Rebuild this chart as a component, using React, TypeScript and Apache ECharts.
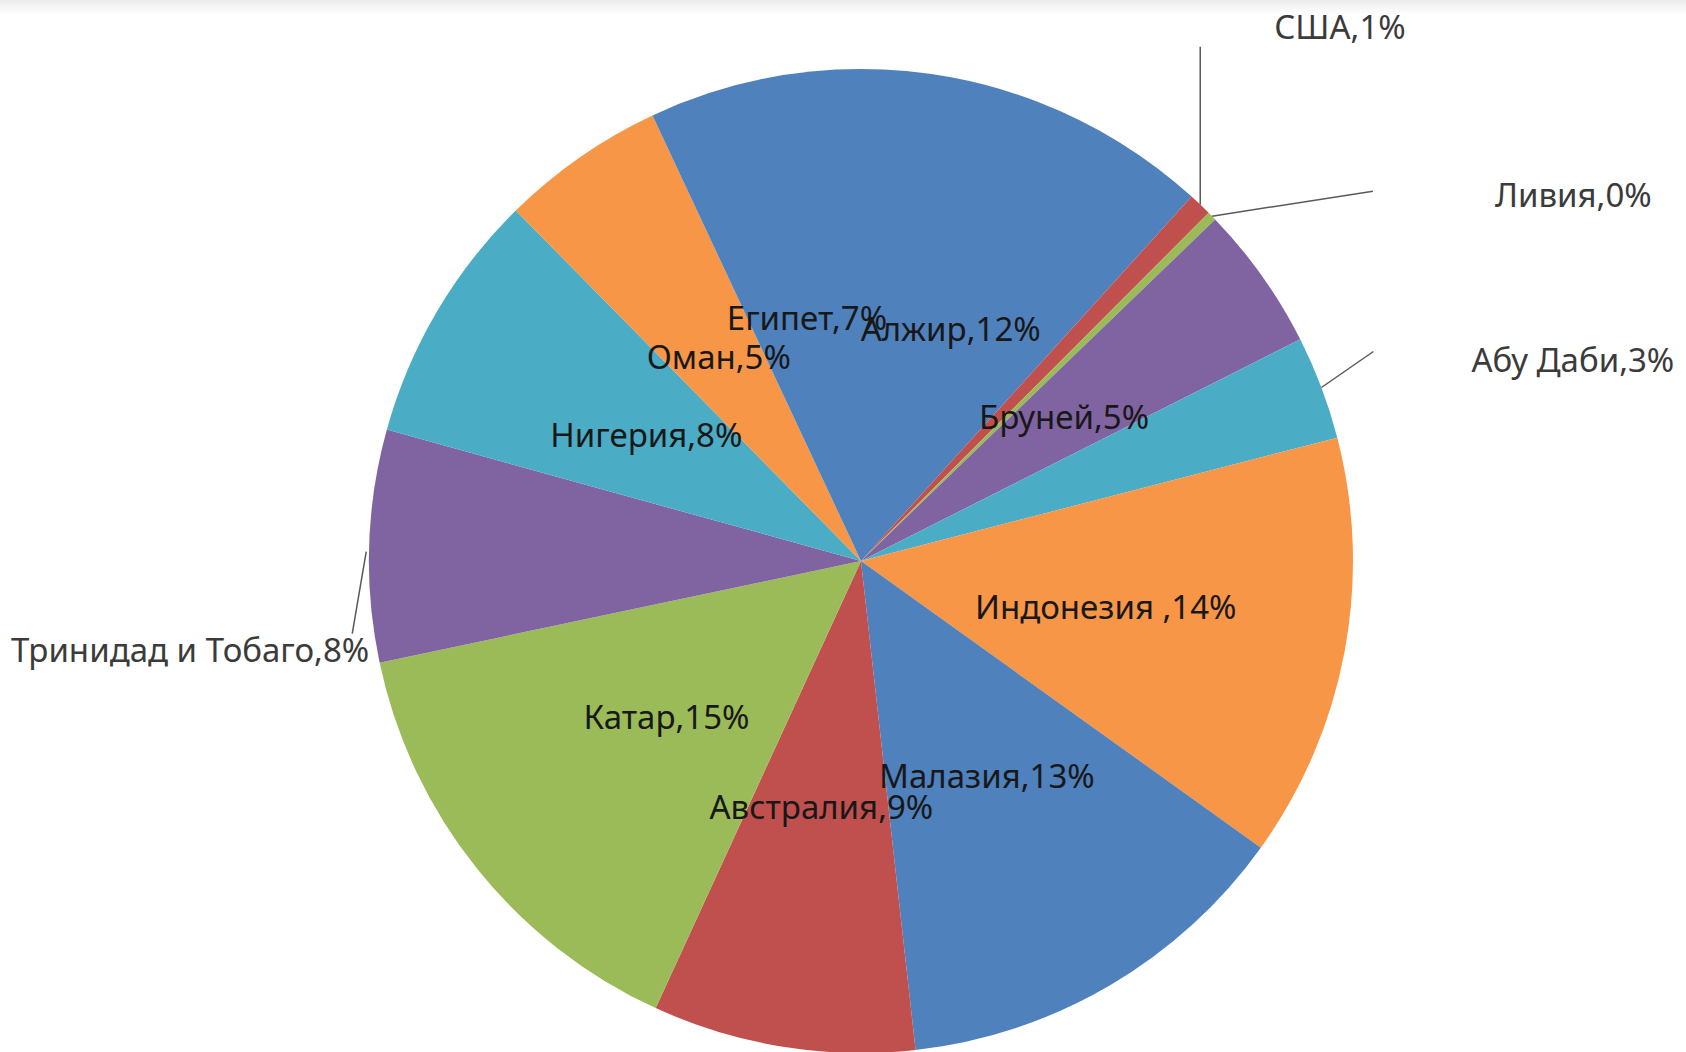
import React, { useEffect, useRef } from "react";
import * as echarts from "echarts";

// ---- data ----
const countries = [
  "Алжир",
  "США",
  "Ливия",
  "Бруней",
  "Абу Даби",
  "Индонезия ",
  "Малазия",
  "Австралия",
  "Катар",
  "Тринидад и Тобаго",
  "Нигерия",
  "Оман",
  "Египет",
];
const shares = [11.7, 0.76, 0.3, 4.76, 3.4, 13.9, 13.3, 8.6, 14.8, 7.6, 8.3, 5.4, 6.95];
const outsideLabelCountries = ["США", "Ливия", "Абу Даби", "Тринидад и Тобаго"];

// ---- style ----
const COLORS = ["#4F81BD", "#C0504D", "#9BBB59", "#8064A2", "#4BACC6", "#F79646"];
const CX = 861;
const CY = 561;
const R = 492;
const FONT = "Noto Sans";

// leader-line and label offsets relative to the slice's outer mid point
const LEADERS: Record<string, { line: number[][]; label: [number, number]; align: string }> = {
  "США": { line: [[0, 0], [0, -158]], label: [74, -178], align: "left" },
  "Ливия": { line: [[0, 0], [161, -25]], label: [283, -22], align: "left" },
  "Абу Даби": { line: [[0, 0], [52, -36]], label: [150, -28], align: "left" },
  "Тринидад и Тобаго": { line: [[-3, 6], [-17, 88]], label: [0, 104], align: "right" },
};

const total = shares.reduce((a, b) => a + b, 0);
function edgeAnchor(i: number): [number, number] {
  let cum = 0;
  for (let j = 0; j < i; j++) cum += shares[j];
  const mid = ((cum + shares[i] / 2) / total) * 2 * Math.PI;
  return [CX + R * Math.sin(mid), CY - R * Math.cos(mid)];
}

export default function App() {
  const ref = useRef<HTMLDivElement>(null);
  useEffect(() => {
    if (!ref.current) return;
    const chart = echarts.init(ref.current, undefined, { renderer: "svg" });
    const data = countries.map((name, i) => {
      const outside = outsideLabelCountries.includes(name);
      return {
        name,
        value: shares[i],
        itemStyle: { color: COLORS[i % COLORS.length] },
        label: outside
          ? { position: "outside", color: "#3b3b3b" }
          : { position: "inside", color: "#181818" },
        labelLine: outside
          ? { show: true, length: 10, length2: 10, lineStyle: { color: "#595959", width: 1.5 } }
          : { show: false },
      };
    });
    chart.setOption({
      animation: false,
      backgroundColor: "#ffffff",
      graphic: [
        {
          type: "rect",
          silent: true,
          z: -10,
          shape: { x: 0, y: 0, width: 1686, height: 14 },
          style: {
            fill: new echarts.graphic.LinearGradient(0, 0, 0, 1, [
              { offset: 0, color: "#ebebeb" },
              { offset: 1, color: "#ffffff" },
            ]),
          },
        },
      ],
      series: [
        {
          type: "pie",
          center: [CX, CY],
          radius: [0, R],
          startAngle: 90,
          clockwise: true,
          avoidLabelOverlap: false,
          minShowLabelAngle: 0,
          itemStyle: { borderWidth: 0 },
          label: {
            show: true,
            fontFamily: FONT,
            fontSize: 33,
            overflow: "none",
            formatter: (p: any) => `${p.name},${Math.round(p.percent)}%`,
          },
          labelLayout: (params: any) => {
            const name = countries[params.dataIndex];
            const cfg = LEADERS[name];
            if (!cfg) return {};
            const [ax, ay] = edgeAnchor(params.dataIndex);
            return {
              x: ax + cfg.label[0],
              y: ay + cfg.label[1],
              align: cfg.align,
              verticalAlign: "middle",
              labelLinePoints: cfg.line.map(([dx, dy]) => [ax + dx, ay + dy]),
            };
          },
          emphasis: { disabled: true },
          data,
        },
      ],
    });
    return () => chart.dispose();
  }, []);
  return (
    <div
      ref={ref}
      style={{ position: "absolute", left: 0, top: 0, width: 1686, height: 1052 }}
    />
  );
}
